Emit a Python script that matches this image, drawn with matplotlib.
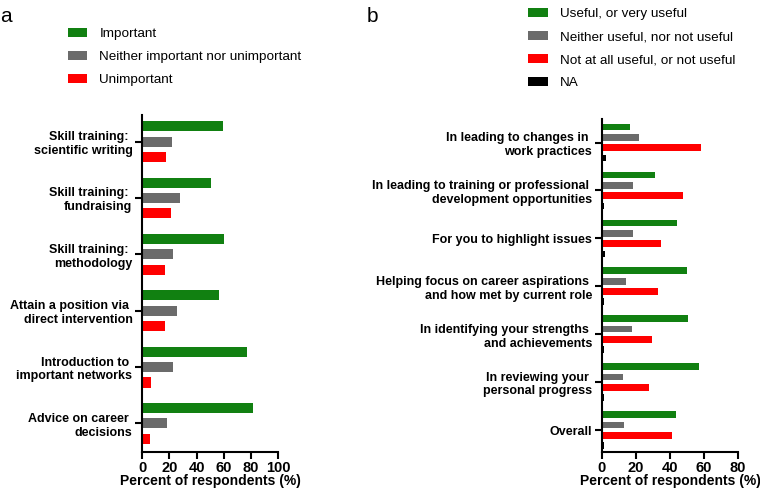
import matplotlib
matplotlib.use("Agg")
import matplotlib.pyplot as plt
import numpy as np

# panel a data
a_labels = ["Skill training: \nscientific writing",
            "Skill training: \nfundraising",
            "Skill training: \nmethodology",
            "Attain a position via \ndirect intervention",
            "Introduction to \nimportant networks",
            "Advice on career \ndecisions"]
a_series = ["Important", "Neither important nor unimportant", "Unimportant"]
a_important = [59.7, 50.6, 60.4, 56.5, 77.0, 81.8]
a_neither = [22.1, 27.8, 22.4, 26.0, 22.6, 18.0]
a_unimportant = [17.7, 21.1, 16.7, 16.7, 6.6, 6.1]

# panel b data
b_labels = ["In leading to changes in \nwork practices",
            "In leading to training or professional \ndevelopment opportunities",
            "For you to highlight issues",
            "Helping focus on career aspirations \nand how met by current role",
            "In identifying your strengths \nand achievements",
            "In reviewing your \npersonal progress",
            "Overall"]
b_series = ["Useful, or very useful", "Neither useful, nor not useful",
            "Not at all useful, or not useful", "NA"]
b_useful = [16.3, 31.2, 44.0, 50.1, 50.5, 57.0, 43.6]
b_neither = [22.0, 18.5, 18.3, 14.3, 17.5, 12.6, 12.7]
b_not = [58.0, 47.9, 34.8, 33.0, 29.7, 27.7, 41.3]
b_na = [2.6, 1.2, 2.0, 1.2, 1.2, 1.2, 1.2]

GREEN = "#118011"
GRAY = "#6b6b6b"
RED = "#ff0000"
BLACK = "#000000"

plt.rcParams['font.family'] = ['Liberation Sans', 'DejaVu Sans']


def style_axis(ax, xmax):
    ax.spines['top'].set_visible(False)
    ax.spines['right'].set_visible(False)
    ax.spines['left'].set_linewidth(1.5)
    ax.spines['bottom'].set_linewidth(1.5)
    ax.set_xlim(0, xmax)
    ax.set_xticks(np.arange(0, xmax + 1, 20))
    ax.tick_params(axis='both', width=1.5, length=5)
    ax.tick_params(axis='x', labelsize=10.5, pad=1.5)
    ax.tick_params(axis='y', labelsize=9, pad=2)
    for t in ax.get_xticklabels() + ax.get_yticklabels():
        t.set_fontweight('bold')
    ax.set_xlabel('Percent of respondents (%)', fontsize=10, fontweight='bold',
                  labelpad=-1)


def main():
    fig = plt.figure(figsize=(7.6, 4.92), dpi=100)

    # panel a
    ax1 = fig.add_axes([0.187, 0.081, 0.179, 0.685])
    y = np.arange(len(a_labels))
    off = 0.273
    h = 0.18
    b1 = ax1.barh(y - off, a_important, height=h, color=GREEN, label=a_series[0])
    b2 = ax1.barh(y, a_neither, height=h, color=GRAY, label=a_series[1])
    b3 = ax1.barh(y + off, a_unimportant, height=h, color=RED, label=a_series[2])
    ax1.set_yticks(y)
    ax1.set_yticklabels(a_labels)
    ax1.set_ylim(5.51, -0.47)
    style_axis(ax1, 100)
    fig.legend(handles=[b1, b2, b3], loc='upper left', bbox_to_anchor=(0.089, 0.943),
               frameon=False, fontsize=9.7, handlelength=1.45, handleheight=0.65,
               handletextpad=0.9, labelspacing=0.8, borderpad=0, borderaxespad=0)

    # panel b
    ax2 = fig.add_axes([0.792, 0.081, 0.179, 0.677])
    y = np.arange(len(b_labels))
    s = 0.216
    h = 0.14
    c1 = ax2.barh(y - 1.5 * s, b_useful, height=h, color=GREEN, label=b_series[0])
    c2 = ax2.barh(y - 0.5 * s, b_neither, height=h, color=GRAY, label=b_series[1])
    c3 = ax2.barh(y + 0.5 * s, b_not, height=h, color=RED, label=b_series[2])
    c4 = ax2.barh(y + 1.5 * s, b_na, height=h, color=BLACK, label=b_series[3])
    ax2.set_yticks(y)
    ax2.set_yticklabels(b_labels)
    ax2.set_ylim(6.46, -0.49)
    style_axis(ax2, 80)
    fig.legend(handles=[c1, c2, c3, c4], loc='upper left', bbox_to_anchor=(0.695, 0.984),
               frameon=False, fontsize=9.7, handlelength=1.45, handleheight=0.65,
               handletextpad=0.9, labelspacing=0.8, borderpad=0, borderaxespad=0)

    fig.text(0.0, 0.985, 'a', fontsize=15, va='top', ha='left')
    fig.text(0.482, 0.985, 'b', fontsize=15, va='top', ha='left')

    fig.savefig('out.png', dpi=100)


if __name__ == "__main__":
    main()
